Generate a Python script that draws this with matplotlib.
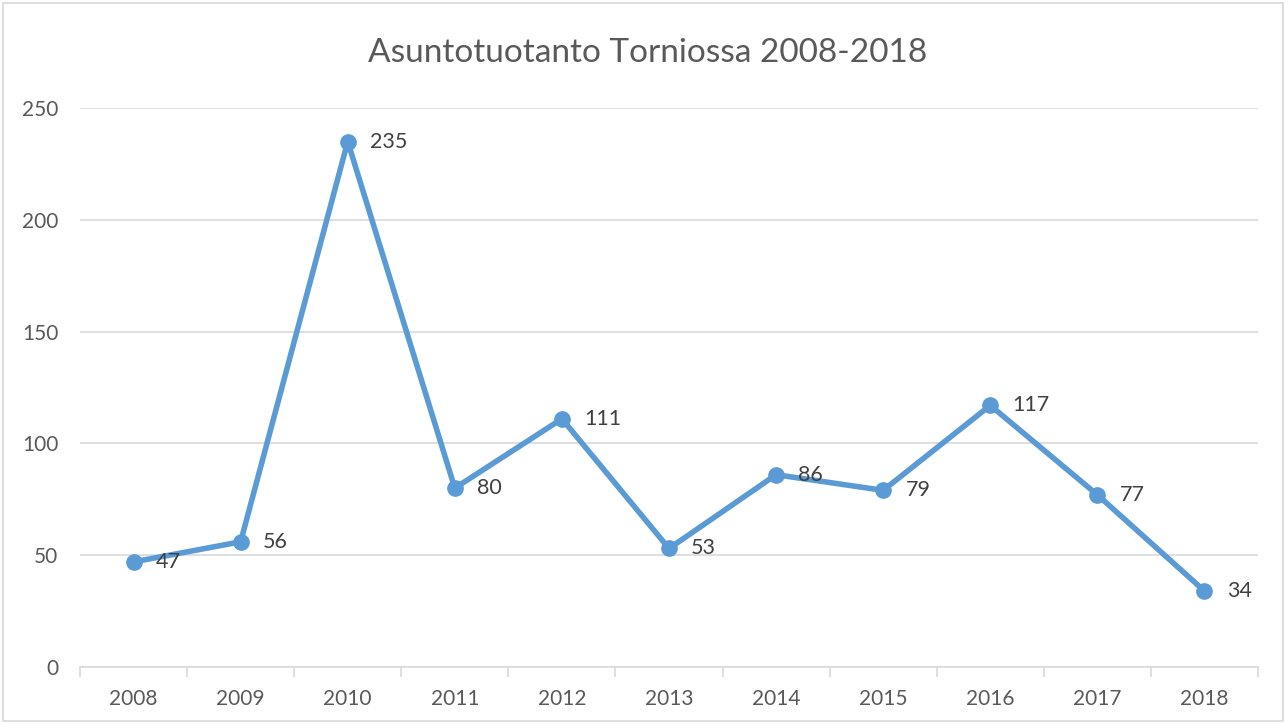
import matplotlib
matplotlib.use("Agg")
import matplotlib.pyplot as plt
from matplotlib.patches import Rectangle

years = ["2008", "2009", "2010", "2011", "2012", "2013", "2014", "2015", "2016", "2017", "2018"]
values = [47, 56, 235, 80, 111, 53, 86, 79, 117, 77, 34]
title = "Asuntotuotanto Torniossa 2008-2018"
yticks = [0, 50, 100, 150, 200, 250]

plt.rcParams['font.family'] = ['Lato', 'DejaVu Sans']
txt = "#595959"
grid = "#d9d9d9"
blue = "#5B9BD5"

fig = plt.figure(figsize=(12.88, 7.24), dpi=100)
ax = fig.add_axes([80/1288, 1-667/724, (1258-80)/1288, (667-108)/724])

x = list(range(len(years)))
ax.plot(x, values, color=blue, lw=4, marker='o', ms=11, zorder=3, solid_capstyle='round')
for xi, v in zip(x, values):
    ax.annotate(str(v), (xi, v), xytext=(16, 0), textcoords='offset points',
                ha='left', va='center', fontsize=15.5, color="#404040")

ax.set_xlim(-0.5, len(years) - 0.5)
ax.set_ylim(0, 250)
ax.set_yticks(yticks)
ax.set_yticklabels([str(t) for t in yticks])
ax.grid(axis='y', color=grid, lw=1.2)
ax.set_axisbelow(True)
for s in ['top', 'right', 'left']:
    ax.spines[s].set_visible(False)
ax.spines['bottom'].set_color(grid)
ax.spines['bottom'].set_linewidth(1.2)

ax.set_xticks([i - 0.5 for i in range(len(years) + 1)], minor=False)
ax.set_xticklabels([])
ax.set_xticks(x, minor=True)
ax.set_xticklabels(years, minor=True)
ax.tick_params(axis='x', which='major', length=7, color=grid, width=1.2)
ax.tick_params(axis='x', which='minor', length=0, pad=16, labelsize=15, labelcolor=txt)
ax.tick_params(axis='y', length=0, pad=15.5, labelsize=15, labelcolor=txt)

fig.text(648/1288, 1-53/724, title, ha='center', va='center', fontsize=24, color=txt)

fig.patches.append(Rectangle((3/1288, 3/724), 1280/1288, 718/724, transform=fig.transFigure,
                             fill=False, edgecolor=grid, lw=1.2))

fig.savefig("out.png", dpi=100)
